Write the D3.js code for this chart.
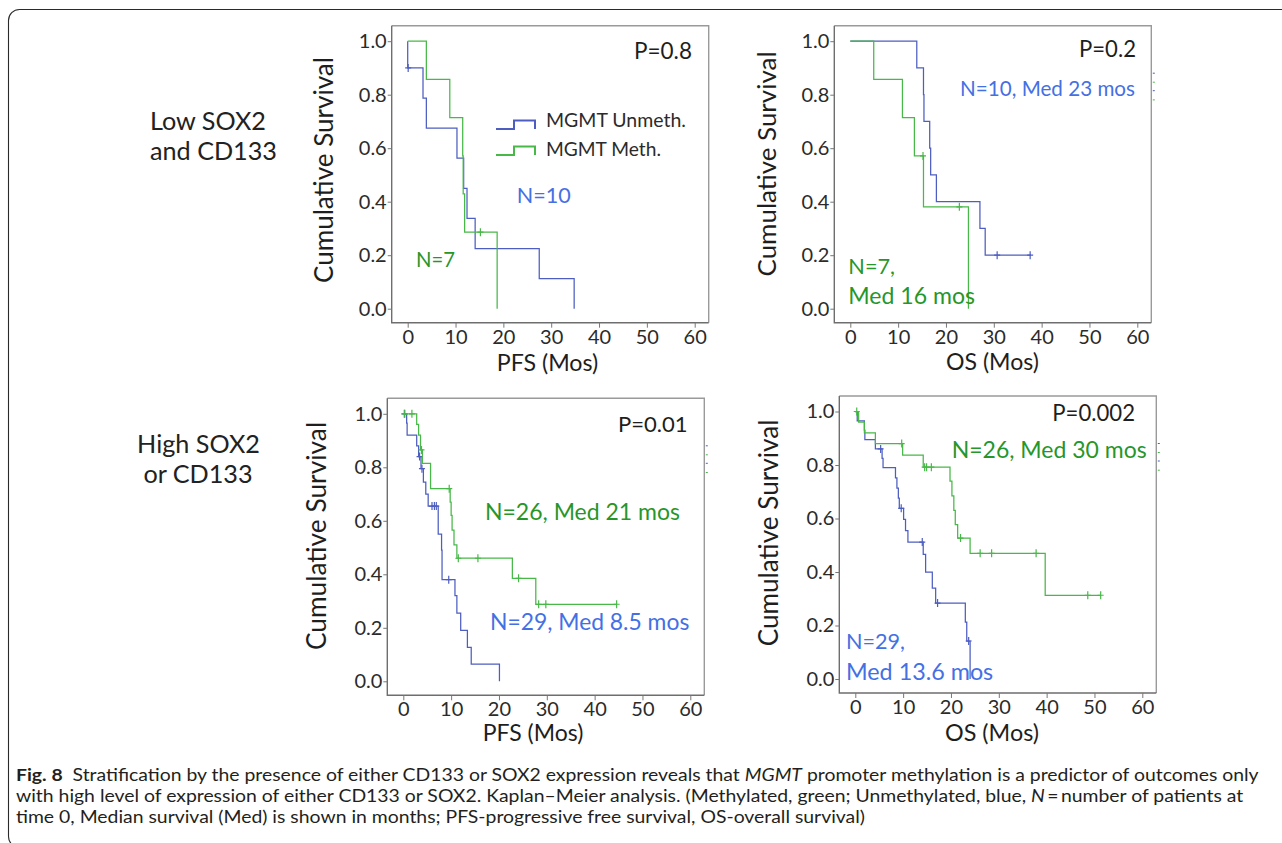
<!DOCTYPE html>
<html>
<head>
<meta charset="utf-8">
<script src="https://cdn.jsdelivr.net/npm/d3@7"></script>
<style>
  html, body { margin: 0; padding: 0; background: #fff; overflow: hidden; }
  text { white-space: pre; }
</style>
</head>
<body>
<svg id="fig" width="1282" height="843"></svg>
<script>
// ---- Kaplan–Meier step points [months, cumulative survival] and censor marks ----

// Low SOX2 and CD133 – PFS
const lowPfsUnmeth = [[0,1],[0,0.9],[3.2,0.7875],[3.9,0.675],[10.3,0.5625],[11.7,0.45],[12.4,0.3375],[14.1,0.225],[27.5,0.1125],[34.8,0]];
const lowPfsUnmethCensor = [[0.1,0.9]];
const lowPfsMeth = [[0,1],[3.9,0.857],[8.8,0.714],[11.5,0.571],[11.6,0.429],[11.9,0.286],[18.7,0]];
const lowPfsMethCensor = [[15.2,0.286]];

// Low SOX2 and CD133 – OS
const lowOsUnmeth = [[0,1],[13.9,0.9],[15.3,0.8],[15.4,0.7],[16.6,0.6],[16.8,0.5],[18.0,0.4],[27.1,0.3],[28.2,0.2],[37.7,0.2]];
const lowOsUnmethCensor = [[30.7,0.2],[37.6,0.2]];
const lowOsMeth = [[0,1],[4.9,0.857],[10.9,0.714],[13.4,0.571],[15.3,0.381],[24.7,0]];
const lowOsMethCensor = [[15.2,0.571],[22.8,0.381]];

// High SOX2 or CD133 – PFS
const highPfsUnmeth = [[0,1],[0.7,0.965],[0.8,0.92],[2.8,0.88],[3.2,0.84],[3.7,0.795],[4.2,0.745],[4.7,0.70],[5.2,0.655],[7.3,0.55],[8.0,0.49],[8.1,0.38],[10.8,0.32],[11.2,0.255],[12.0,0.19],[13.4,0.127],[14.2,0.064],[20.1,0]];
const highPfsUnmethCensor = [[0.3,1],[3.4,0.84],[3.9,0.795],[6.0,0.655],[6.5,0.655],[6.9,0.655],[9.5,0.38]];
const highPfsMeth = [[0,1],[2.8,0.96],[3.2,0.92],[3.6,0.865],[4.0,0.815],[5.7,0.72],[9.8,0.67],[10.0,0.62],[10.2,0.565],[10.6,0.51],[11.2,0.46],[22.8,0.385],[27.7,0.288],[44.6,0.288]];
const highPfsMethCensor = [[0.2,1],[1.8,1],[3.8,0.865],[9.6,0.72],[11.5,0.46],[15.6,0.46],[24.1,0.385],[28.3,0.288],[29.8,0.288],[44.6,0.288]];

// High SOX2 or CD133 – OS
const highOsUnmeth = [[0,1],[0.4,0.965],[1.9,0.93],[2.0,0.895],[4.2,0.86],[5.6,0.825],[5.8,0.79],[8.4,0.752],[8.7,0.714],[9.0,0.676],[9.2,0.638],[10.1,0.597],[10.5,0.555],[11.0,0.512],[14.2,0.466],[14.7,0.40],[16.1,0.34],[16.8,0.284],[23.0,0.213],[23.3,0.142],[24.0,0]];
const highOsUnmethCensor = [[5.3,0.86],[9.6,0.638],[14.0,0.512],[17.2,0.284],[23.7,0.142]];
const highOsMeth = [[0,1],[0.7,0.96],[1.9,0.92],[4.2,0.88],[9.9,0.837],[14.2,0.792],[19.8,0.74],[20.2,0.685],[20.6,0.63],[20.9,0.577],[21.4,0.527],[24.0,0.47],[39.7,0.313],[51.3,0.313]];
const highOsMethCensor = [[0.3,1],[9.7,0.88],[14.5,0.792],[14.9,0.792],[15.9,0.792],[22.0,0.527],[26.1,0.47],[28.5,0.47],[37.8,0.47],[48.6,0.313],[51.3,0.313]];

// Axis ticks and labels
const xTicks = [0, 10, 20, 30, 40, 50, 60];
const yTicks = [0, 0.2, 0.4, 0.6, 0.8, 1.0];
const yTitle = "Cumulative Survival";
const legendLabels = ["MGMT Unmeth.", "MGMT Meth."];
const rowLabels = [["Low SOX2", "and CD133"], ["High SOX2", "or CD133"]];
const pValues = ["P=0.8", "P=0.2", "P=0.01", "P=0.002"];

const captionLines = [
  [{t: "Fig. 8", b: true}, {t: "  Stratification by the presence of either CD133 or SOX2 expression reveals that "}, {t: "MGMT", i: true}, {t: " promoter methylation is a predictor of outcomes only"}],
  [{t: "with high level of expression of either CD133 or SOX2. Kaplan\u2013Meier analysis. (Methylated, green; Unmethylated, blue, "}, {t: "N", i: true}, {t: "\u2009=\u2009number of patients at"}],
  [{t: "time 0, Median survival (Med) is shown in months; PFS-progressive free survival, OS-overall survival)"}]
];

// ---- styling ----
const FONT = "Lato, 'Open Sans', sans-serif";
const INK = "#1e1e1e";
const BLUE_LINE = "#4d5ec0";
const GREEN_LINE = "#48b848";
const BLUE_TEXT = "#4470e4";
const GREEN_TEXT = "#27962a";
const PW = 317, PH = 297;

const svg = d3.select("#fig");

// outer figure frame (rounded corner at top-left, continues past the page edge)
svg.append("rect")
  .attr("x", 8.5).attr("y", 9.5).attr("width", 1310).attr("height", 838)
  .attr("rx", 11).attr("fill", "none").attr("stroke", "#2a2a2a").attr("stroke-width", 1.1);

// scale a text's font size so that it spans the given width
function fitFont(sel, target) {
  const len = sel.node().getComputedTextLength();
  const fs = parseFloat(sel.attr("font-size"));
  const nfs = fs * target / len;
  sel.attr("font-size", nfs.toFixed(2));
  return nfs;
}

const panels = [
  {
    left: 391.7, top: 25.7, xTitle: "PFS (Mos)", p: pValues[0],
    unmeth: lowPfsUnmeth, unmethC: lowPfsUnmethCensor, meth: lowPfsMeth, methC: lowPfsMethCensor,
    xt: {x: 155.8, y: 345, w: 101.6}, yt: {x: -58.4, y: 144.3, w: 226},
    notes: [
      {text: pValues[0], x: 300.3, y: 33.3, a: "end", c: INK, w: 58},
      {text: "N=10", x: 125, y: 177, a: "start", c: BLUE_TEXT, w: 54},
      {text: "N=7", x: 24.3, y: 241, a: "start", c: GREEN_TEXT, w: 39}
    ],
    legend: true, stubs: false
  },
  {
    left: 834.3, top: 25.7, xTitle: "OS (Mos)", p: pValues[1],
    unmeth: lowOsUnmeth, unmethC: lowOsUnmethCensor, meth: lowOsMeth, methC: lowOsMethCensor,
    xt: {x: 158.2, y: 344.3, w: 93}, yt: {x: -58.3, y: 138.3, w: 225},
    notes: [
      {text: pValues[1], x: 301.7, y: 31.6, a: "end", c: INK, w: 57},
      {text: "N=10, Med 23 mos", x: 300.7, y: 70.3, a: "end", c: BLUE_TEXT, w: 175},
      {text: "N=7,", x: 14, y: 248.3, a: "start", c: GREEN_TEXT, w: 46.7},
      {text: "Med 16 mos", x: 14, y: 278.3, a: "start", c: GREEN_TEXT, w: 126.7}
    ],
    legend: false, stubs: true
  },
  {
    left: 387.3, top: 398.3, xTitle: "PFS (Mos)", p: pValues[2],
    unmeth: highPfsUnmeth, unmethC: highPfsUnmethCensor, meth: highPfsMeth, methC: highPfsMethCensor,
    xt: {x: 145.7, y: 342.7, w: 100.6}, yt: {x: -61.3, y: 137.7, w: 228.3},
    notes: [
      {text: pValues[2], x: 300.4, y: 33.4, a: "end", c: INK, w: 69.7},
      {text: "N=26, Med 21 mos", x: 97.7, y: 121.7, a: "start", c: GREEN_TEXT, w: 195},
      {text: "N=29, Med 8.5 mos", x: 102.7, y: 231.7, a: "start", c: BLUE_TEXT, w: 199.3}
    ],
    legend: false, stubs: true
  },
  {
    left: 839.3, top: 396, xTitle: "OS (Mos)", p: pValues[3],
    unmeth: highOsUnmeth, unmethC: highOsUnmethCensor, meth: highOsMeth, methC: highOsMethCensor,
    xt: {x: 152.7, y: 345, w: 94}, yt: {x: -61.3, y: 137, w: 226.7},
    notes: [
      {text: pValues[3], x: 295.7, y: 25, a: "end", c: INK, w: 82.7},
      {text: "N=26, Med 30 mos", x: 112.4, y: 61.7, a: "start", c: GREEN_TEXT, w: 195},
      {text: "N=29,", x: 6.7, y: 253, a: "start", c: BLUE_TEXT, w: 59},
      {text: "Med 13.6 mos", x: 6.7, y: 284, a: "start", c: BLUE_TEXT, w: 147.3}
    ],
    legend: false, stubs: true
  }
];

panels.forEach(p => {
  const g = svg.append("g").attr("transform", `translate(${p.left},${p.top})`);
  const x = d3.scaleLinear().domain([0, 60]).range([16, 303]);
  const y = d3.scaleLinear().domain([0, 1]).range([283, 15.5]);

  // plot frame: darker axis sides, lighter top/right
  g.append("path").attr("d", `M0,0 H${PW} V${PH}`).attr("fill", "none")
    .attr("stroke", "#9a9a9a").attr("stroke-width", 1.4);
  g.append("path").attr("d", `M0,0 V${PH} H${PW}`).attr("fill", "none")
    .attr("stroke", "#6e6e6e").attr("stroke-width", 1.4);

  // y axis
  const gy = g.append("g").call(
    d3.axisLeft(y).tickValues(yTicks).tickFormat(d3.format(".1f")).tickSize(4).tickPadding(1));
  gy.select(".domain").remove();
  gy.selectAll("line").attr("stroke", "#777");
  gy.selectAll("text").attr("font-family", FONT).attr("font-size", 20).attr("fill", "#2b2b2b");

  // x axis
  const gx = g.append("g").attr("transform", `translate(0,${PH})`).call(
    d3.axisBottom(x).tickValues(xTicks).tickFormat(d3.format("d")).tickSize(5).tickPadding(2));
  gx.select(".domain").remove();
  gx.selectAll("line").attr("stroke", "#777");
  gx.selectAll("text").attr("font-family", FONT).attr("font-size", 20).attr("fill", "#2b2b2b");

  // axis titles
  const xt = g.append("text").text(p.xTitle)
    .attr("x", p.xt.x).attr("y", p.xt.y).attr("text-anchor", "middle")
    .attr("font-family", FONT).attr("font-size", 22).attr("fill", INK);
  fitFont(xt, p.xt.w);
  const yt = g.append("text").text(yTitle)
    .attr("transform", `translate(${p.yt.x},${p.yt.y}) rotate(-90)`).attr("text-anchor", "middle")
    .attr("font-family", FONT).attr("font-size", 24).attr("fill", INK);
  fitFont(yt, p.yt.w);

  // survival curves
  const line = d3.line().x(d => x(d[0])).y(d => y(d[1])).curve(d3.curveStepAfter);
  const series = [
    {steps: p.unmeth, censor: p.unmethC, color: BLUE_LINE},
    {steps: p.meth, censor: p.methC, color: GREEN_LINE}
  ];
  series.forEach(s => {
    g.append("path").datum(s.steps).attr("d", line)
      .attr("fill", "none").attr("stroke", s.color).attr("stroke-width", 1.25);
    g.append("g").selectAll("path").data(s.censor).join("path")
      .attr("d", d => `M${x(d[0])},${y(d[1]) - 4} V${y(d[1]) + 4} M${x(d[0]) - 3},${y(d[1])} H${x(d[0]) + 3}`)
      .attr("fill", "none").attr("stroke", s.color).attr("stroke-width", 1.2);
  });

  // annotations
  p.notes.forEach(n => {
    const t = g.append("text").text(n.text)
      .attr("x", n.x).attr("y", n.y).attr("text-anchor", n.a)
      .attr("font-family", FONT).attr("font-size", 22).attr("fill", n.c);
    fitFont(t, n.w);
  });

  // legend
  if (p.legend) {
    const lg = [
      {label: legendLabels[0], color: BLUE_LINE, base: 103.3, ty: 101.8, w: 140},
      {label: legendLabels[1], color: GREEN_LINE, base: 129.3, ty: 130.3, w: 115}
    ];
    lg.forEach(l => {
      g.append("path")
        .attr("d", `M104.3,${l.base} H122.3 V${l.base - 8.5} H143.3 V${l.base}`)
        .attr("fill", "none").attr("stroke", l.color).attr("stroke-width", 2);
      const t = g.append("text").text(l.label)
        .attr("x", 154.3).attr("y", l.ty)
        .attr("font-family", FONT).attr("font-size", 20).attr("fill", "#2b2b2b");
      fitFont(t, l.w);
    });
  }

  // clipped legend remnants along the right edge
  if (p.stubs) {
    [[47.5, BLUE_LINE], [56.5, GREEN_LINE], [65, BLUE_LINE], [74.2, GREEN_LINE]].forEach(([sy, c]) => {
      g.append("line").attr("x1", PW + 1.5).attr("x2", PW + 3.5).attr("y1", sy).attr("y2", sy)
        .attr("stroke", c).attr("stroke-width", 1);
    });
  }
});

// row labels
const r1a = svg.append("text").text(rowLabels[0][0]).attr("x", 150).attr("y", 130)
  .attr("font-family", FONT).attr("font-size", 24).attr("fill", "#222");
const r1b = svg.append("text").text(rowLabels[0][1]).attr("x", 150).attr("y", 160)
  .attr("font-family", FONT).attr("font-size", 24).attr("fill", "#222");
const rowSize = fitFont(r1b, 127);
r1a.attr("font-size", rowSize.toFixed(2));
svg.append("text").text(rowLabels[1][0]).attr("x", 198.5).attr("y", 453).attr("text-anchor", "middle")
  .attr("font-family", FONT).attr("font-size", rowSize.toFixed(2)).attr("fill", "#222");
svg.append("text").text(rowLabels[1][1]).attr("x", 198).attr("y", 483).attr("text-anchor", "middle")
  .attr("font-family", FONT).attr("font-size", rowSize.toFixed(2)).attr("fill", "#222");

// caption, set in one common horizontal scale for all lines
const capG = svg.append("g");
const capBase = [780.5, 801.5, 822.5];
const capTexts = captionLines.map((parts, i) => {
  const t = capG.append("text").attr("font-family", "Lato, 'Open Sans', sans-serif")
    .attr("font-size", 17.4).attr("fill", "#231f20");
  parts.forEach(pt => {
    t.append("tspan").text(pt.t)
      .attr("font-weight", pt.b ? 700 : null)
      .attr("font-style", pt.i ? "italic" : null);
  });
  return t;
});
const sx = 1243 / capTexts[0].node().getComputedTextLength();
capTexts.forEach((t, i) => t.attr("transform", `translate(16,${capBase[i]}) scale(${sx.toFixed(4)},1)`));
</script>
</body>
</html>
